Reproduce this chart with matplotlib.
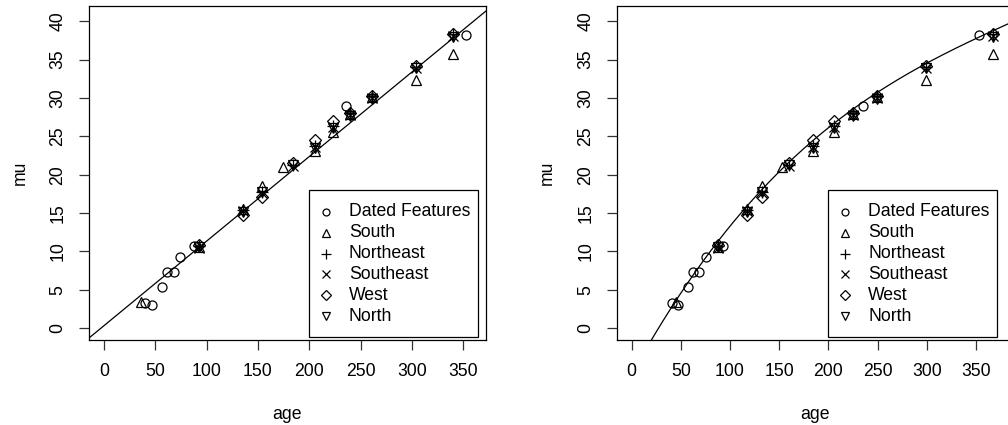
import matplotlib
matplotlib.use("Agg")
import matplotlib.pyplot as plt
from matplotlib.patches import Rectangle
from matplotlib.lines import Line2D
import numpy as np

plt.rcParams['font.family'] = ['Liberation Sans', 'DejaVu Sans']

W, H = 1008, 425

# ages of the regional clusters under the two age models
cluster_age_left = [92.9, 135.7, 153.6, 184.4, 205.5, 222.7, 239.6, 260.7, 304.0, 340.2]
cluster_age_right = [87.4, 116.9, 132.1, 160.2, 183.9, 206.0, 224.6, 249.6, 299.1, 366.9]

dated_age_left = [39.9, 46.4, 56.5, 61.4, 68.2, 74.3, 87.3, 235.7, 352.3]
dated_age_right = [40.7, 46.7, 56.9, 62.3, 68.4, 75.2, 92.8, 235.4, 352.6]
dated_mu = [3.30, 2.96, 5.30, 7.34, 7.34, 9.21, 10.7, 28.9, 38.2]

south_age_left = [35.7, 92.9, 135.7, 153.6, 174.6, 205.5, 222.7, 239.6, 260.7, 304.0, 340.2]
south_age_right = [45.0, 87.4, 116.9, 132.1, 152.4, 183.9, 206.0, 224.6, 249.6, 299.1, 366.9]
south_mu = [3.35, 10.6, 15.5, 18.55, 20.95, 23.1, 25.6, 27.9, 30.1, 32.3, 35.8]

northeast_mu = [10.7, 15.4, 17.8, 21.3, 23.8, 26.4, 28.0, 30.2, 34.0, 38.3]
southeast_mu = [10.5, 15.2, 17.6, 21.1, 23.6, 26.2, 27.8, 30.0, 33.9, 38.1]
west_mu = [10.8, 14.7, 17.1, 21.5, 24.5, 27.0, 28.1, 30.2, 34.2, 38.4]
north_mu = [10.6, 15.1, 17.7, 21.2, 23.5, 26.1, 27.7, 29.9, 33.9, 38.0]

# left panel: straight fit, right panel: curved fit
line_intercept = 0.31
line_slope = 0.1103
curve_age = [20.9, 43.3, 74.5, 116.9, 160.2, 204.9, 249.6, 299.1, 352.6, 384.5]
curve_mu = [-1.56, 3.43, 9.21, 15.8, 21.4, 27.0, 30.4, 34.5, 38.2, 39.6]

labels = ['Dated Features', 'South', 'Northeast', 'Southeast', 'West', 'North']
markers = ['o', '^', '+', 'x', 'D', 'v']
msizes = [6.5, 7.5, 9, 6.5, 6.5, 7.5]
legend_msizes = [5, 6, 7.5, 5.5, 5, 6]

FS = 12.7


def fx(px):
    return px / W


def fy(py):
    return 1 - py / H


def draw_panel(ax, ages, mus, xlim, legend_left, legend_right, xlabel_x, ylabel_x):
    for age, mu, m, ms in zip(ages, mus, markers, msizes):
        ax.plot(age, mu, linestyle='none', marker=m, ms=ms, mfc='none',
                mec='black', mew=0.9, color='black')
    ax.set_xlim(*xlim)
    ax.set_ylim(-1.56, 42.0)
    ax.set_xticks(range(0, 400, 50))
    ax.set_yticks(range(0, 45, 5))
    ax.tick_params(direction='out', length=7.2, width=0.9, labelsize=FS, pad=9,
                   color='#333333')
    for t in ax.get_yticklabels():
        t.set_rotation(90)
        t.set_va('center')
    for s in ax.spines.values():
        s.set_linewidth(0.9)

    # legend box
    top, bottom = 190, 337.3
    fig.add_artist(Rectangle((fx(legend_left), fy(bottom)),
                             fx(legend_right) - fx(legend_left), fy(top) - fy(bottom),
                             transform=fig.transFigure, facecolor='white',
                             edgecolor='black', lw=0.9, zorder=5))
    for i, (lab, m, ms) in enumerate(zip(labels, markers, legend_msizes)):
        yy = 211.7 + i * 20.9
        fig.add_artist(Line2D([fx(legend_left + 16.5)], [fy(yy)], transform=fig.transFigure,
                              linestyle='none', marker=m, ms=ms, mfc='none',
                              mec='black', mew=0.9, zorder=6))
        fig.text(fx(legend_left + 40), fy(yy), lab, fontsize=FS, ha='left',
                 va='center', zorder=6)

    fig.text(fx(xlabel_x), fy(419.3), 'age', fontsize=FS, ha='center', va='baseline')
    fig.text(fx(ylabel_x), fy(173), 'mu', fontsize=FS, rotation=90,
             rotation_mode='anchor', ha='center', va='baseline')


fig = plt.figure(figsize=(W / 100, H / 100), dpi=100)
ax1 = fig.add_axes([fx(89), fy(340), fx(485.7) - fx(89), fy(6) - fy(340)])
ax2 = fig.add_axes([fx(617), fy(340), fx(1013.5) - fx(617), fy(6) - fy(340)])

ages_left = [dated_age_left, south_age_left, cluster_age_left, cluster_age_left,
             cluster_age_left, cluster_age_left]
ages_right = [dated_age_right, south_age_right, cluster_age_right, cluster_age_right,
              cluster_age_right, cluster_age_right]
mus = [dated_mu, south_mu, northeast_mu, southeast_mu, west_mu, north_mu]

draw_panel(ax1, ages_left, mus, (-14.6, 371.8), 309, 477.7, 287.4, 25)
ax1.axline((0, line_intercept), slope=line_slope, color='black', lw=0.9)

draw_panel(ax2, ages_right, mus, (-14.9, 388.1), 828.3, 996.7, 815.3, 551.7)
coef = np.polyfit(curve_age, curve_mu, 3)
xs = np.linspace(0, 400, 400)
ax2.plot(xs, np.polyval(coef, xs), color='black', lw=0.9)

fig.savefig('out.png', dpi=100)
